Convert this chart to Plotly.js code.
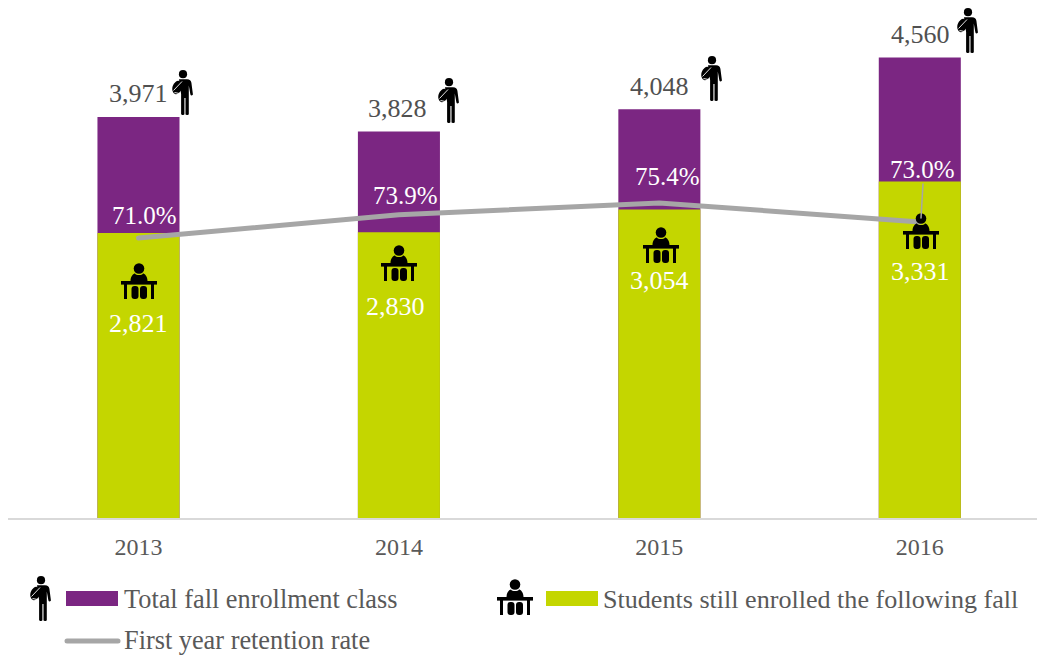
<!DOCTYPE html>
<html>
<head>
<meta charset="utf-8">
<script src="https://cdn.plot.ly/plotly-3.0.1.min.js"></script>
<style>
html,body{margin:0;padding:0;background:#fff;}
#chart{width:1037px;height:655px;}
.scatterlayer .js-line,.shapelayer path{stroke-linecap:round;}
</style>
</head>
<body>
<div id="chart"></div>
<script>
// Enrollment and retention by fall cohort
const years = ["2013", "2014", "2015", "2016"];
const totalEnrollment = [3971, 3828, 4048, 4560];
const stillEnrolled = [2821, 2830, 3054, 3331];
const retentionRate = [71.0, 73.9, 75.4, 73.0];

const seriesNames = ["Total fall enrollment class", "Students still enrolled the following fall", "First year retention rate"];

const PURPLE = "#7B2682", GREEN = "#C4D600", GRAY = "#A6A6A6", TEXT = "#595959";
const FONT = "'Liberation Serif', serif";

// Plot area in pixels, used to convert page positions to paper fractions
const L = 8, W = 1029, H = 518;
const px = v => (v - L) / W;
const py = v => (H - v) / H;

// Standing student with a shoulder bag
const personSvg = "<svg xmlns='http://www.w3.org/2000/svg' viewBox='0 0 21 45'>" +
  "<circle cx='11' cy='4.200' r='4.100'/>" +
  "<path d='M7 9.200h8c2.800 0 4 1.300 4.400 3.500l1.500 11.500c.2 1.500-2.200 1.800-2.500.3l-1.600-9V44c0 1.400-3.300 1.400-3.300 0V28h-1.100v16c0 1.400-3.300 1.400-3.300 0V24z'/>" +
  "<ellipse cx='5.200' cy='17.500' rx='4.700' ry='6.800' transform='rotate(18 5.200 17.500)'/>" +
  "<path d='M1.500 20.500L10 11.500M2.500 22.500L7.500 23.500' stroke='#fff' stroke-width='.9' fill='none'/></svg>";

// Seated student behind a desk
const deskSvg = "<svg xmlns='http://www.w3.org/2000/svg' viewBox='0 0 36 36'>" +
  "<circle cx='18' cy='5.500' r='5.300'/>" +
  "<path d='M9.500 18c0-5 3-7.500 4.500-7.500c1 2 7 2 8 0c1.500 0 4.500 2.500 4.500 7.500z'/>" +
  "<rect x='0' y='18' width='36' height='3.600'/>" +
  "<rect x='3' y='21' width='3' height='15'/><rect x='30' y='21' width='3' height='15'/>" +
  "<rect x='10.500' y='23' width='7' height='13' rx='3'/><rect x='19' y='23' width='7' height='13' rx='3'/></svg>";

const uri = s => "data:image/svg+xml;utf8," + encodeURIComponent(s);

function icon(svg, left, top, w, h) {
  return {source: uri(svg), xref: "paper", yref: "paper", x: px(left), y: py(top),
          sizex: w / W, sizey: h / H, sizing: "stretch", xanchor: "left", yanchor: "top", layer: "above"};
}

// Icon placement: [left, top] in pixels
const personSpots = [[172, 70], [438, 78], [701, 56], [957, 8]];
const deskSpots = [[121, 263], [381, 245], [643, 227], [903, 213]];

const images = [
  ...personSpots.map(p => icon(personSvg, p[0], p[1], 21, 45)),
  ...deskSpots.map(p => icon(deskSvg, p[0], p[1], 36, 36)),
  icon(personSvg, 30, 576, 21, 45),
  icon(deskSvg, 497, 579, 36, 36)
];

const fmt = n => n.toLocaleString("en-US");

function valueLabel(i, value, yref, text, color, dx, dy, size) {
  return {x: i, y: value, xref: "x", yref: yref, text: text, showarrow: false,
          xanchor: "center", yanchor: "middle", xshift: dx, yshift: dy,
          font: {family: FONT, size: size, color: color}};
}

const totalShift = [[0, 23], [-1, 23], [0, 23], [1, 23]];
const studentShift = [[0, -90], [-3, -74], [0, -71], [1, -90]];
const rateShift = [[6, 22], [7, 19], [8, 26], [3, 53]];

const annotations = [];
years.forEach((y, i) => {
  annotations.push(valueLabel(i, totalEnrollment[i], "y", fmt(totalEnrollment[i]), "#505050", totalShift[i][0], totalShift[i][1], 26));
  annotations.push(valueLabel(i, stillEnrolled[i], "y", fmt(stillEnrolled[i]), "#FFFFFF", studentShift[i][0], studentShift[i][1], 26));
  annotations.push(valueLabel(i, retentionRate[i], "y2", retentionRate[i].toFixed(1) + "%", "#FFFFFF", rateShift[i][0], rateShift[i][1], 25));
});

function legendText(text, left, mid, size) {
  return {xref: "paper", yref: "paper", x: px(left), y: py(mid), text: text, showarrow: false,
          xanchor: "left", yanchor: "middle", font: {family: FONT, size: size, color: TEXT}};
}
annotations.push(legendText(seriesNames[0], 122, 599, 26.3));
annotations.push(legendText(seriesNames[1], 601, 599, 26.1));
annotations.push(legendText(seriesNames[2], 122, 640, 26.3));

function swatch(left, right, top, bottom, color) {
  return {type: "rect", xref: "paper", yref: "paper", x0: px(left), x1: px(right), y0: py(bottom), y1: py(top),
          fillcolor: color, line: {width: 0}};
}
const shapes = [
  swatch(66, 118, 591, 606, PURPLE),
  swatch(546, 598, 591, 606, GREEN),
  {type: "line", xref: "paper", yref: "paper", x0: px(67), x1: px(118), y0: py(641), y1: py(641),
   line: {color: GRAY, width: 5}},
  // Leader from the 2016 rate label down to its point on the line
  {type: "line", xref: "paper", yref: "paper", x0: px(923), x1: px(921), y0: py(184), y1: py(218),
   line: {color: GRAY, width: 1.5}}
];

const traces = [
  {type: "bar", name: seriesNames[0], x: [0, 1, 2, 3], y: totalEnrollment, width: 0.315,
   marker: {color: PURPLE}, hoverinfo: "y"},
  {type: "bar", name: seriesNames[1], x: [0, 1, 2, 3], y: stillEnrolled, width: 0.315,
   marker: {color: GREEN}, hoverinfo: "y"},
  {type: "scatter", mode: "lines", name: seriesNames[2], x: [0, 1, 2, 3], y: retentionRate, yaxis: "y2",
   line: {color: GRAY, width: 5}, hoverinfo: "y"}
];

const layout = {
  width: 1037, height: 655,
  margin: {l: L, r: 0, t: 0, b: 137, pad: 0},
  paper_bgcolor: "#FFFFFF", plot_bgcolor: "#FFFFFF",
  barmode: "overlay", showlegend: false,
  xaxis: {range: [-0.501, 3.45], tickvals: [0, 1, 2, 3], ticktext: years, ticks: "", showgrid: false, zeroline: false,
          showline: true, linecolor: "#D9D9D9", linewidth: 2, tickfont: {family: FONT, size: 24, color: TEXT},
          ticklabelstandoff: 6},
  yaxis: {range: [0, 5129], visible: false, fixedrange: true},
  yaxis2: {range: [35.8, 100.9], overlaying: "y", side: "right", visible: false, fixedrange: true},
  images, annotations, shapes
};

Plotly.newPlot("chart", traces, layout, {displayModeBar: false, responsive: false});
</script>
</body>
</html>
